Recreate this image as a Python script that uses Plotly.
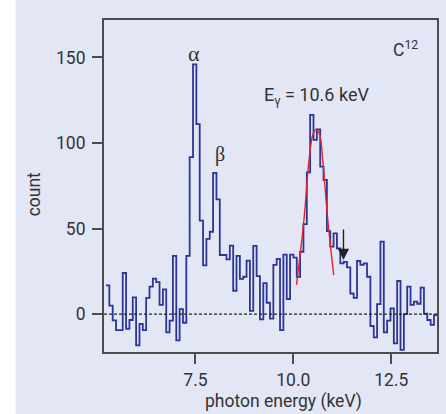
import numpy as np
import plotly.graph_objects as go

# ---- data ----
bin_start = 5.216      # keV, left edge of first channel
bin_width = 0.08546    # keV per channel
counts = [16.8, 4.9, -3.7, -9.4, -9.4, 24, -8.6, -3.5, 9.7, -18.3,
          -5.8, -9.4, 9.5, 16, 20.7, 18.7, 5.3, 14.4, -10.7, -3.9,
          34, -15.4, 2.9, -5.1, 34, 91.7, 146, 111, 54.6, 28.5,
          43.9, 48.1, 82.5, 67, 34.5, 34.5, 32, 40, 13.6, 34,
          20.5, 21.8, 31.2, 1.8, 39.8, 22.2, -3.1, 18.1, 6.6, -2.7,
          28.7, 32.2, -9.4, 34.7, 8.8, 34.7, 33, 21.8, 36.4, 52.6,
          82.8, 116.4, 101.8, 108, 86.2, 78.4, 48.5, 39.4, 47.2, 38.4,
          29.6, 30.5, 27.3, 12, 9.5, 31, 28.7, 29.6, 21.8, -7,
          -13.6, 5.8, 42.3, -10.7, -3.9, 3.3, -17.2, 19.3, -21, 0,
          16, 5.3, 7.2, 6, 15.4, 0.2, -3.5, -6.4, -0.6]

fit_x = [10.08, 10.27, 10.40, 10.50, 10.59, 10.68, 10.75, 10.88, 11.03]
fit_y = [17, 55, 90, 105, 108, 104, 90, 55, 22.8]

x_ticks = [7.5, 10.0, 12.5]
x_ticklabels = ["7.5", "10.0", "12.5"]
y_ticks = [0, 50, 100, 150]
y_ticklabels = ["0", "50", "100", "150"]
x_range = [5.165, 13.668]
y_range = [-22.2, 171.9]

arrow_x = 11.28
arrow_tip = 31.6
arrow_tail = 50.3

# ---- styles ----
bg = "#e3e7f5"
txt = "#333333"
axc = "#4d4d4d"
sans = "Roboto"
serif = "Liberation Serif"
fs = 17.5

edges = bin_start + bin_width * np.arange(len(counts) + 1)
step_y = counts + [counts[-1]]

fig = go.Figure()
fig.add_hline(y=0, line=dict(color="#222222", width=1.2, dash="3px,2px"))
fig.add_trace(go.Scatter(x=edges, y=step_y, mode="lines", line_shape="hv",
                         line=dict(color="#2b3595", width=1.8), hoverinfo="skip"))
fig.add_trace(go.Scatter(x=fit_x, y=fit_y, mode="lines", line_shape="spline",
                         line=dict(color="#e8202a", width=1.4), hoverinfo="skip"))

fig.update_xaxes(range=x_range, tickvals=x_ticks, ticktext=x_ticklabels,
                 ticks="outside", ticklen=10, tickwidth=1.5, tickcolor=axc,
                 showline=True, linecolor=axc, linewidth=2, mirror=True,
                 showgrid=False, zeroline=False, ticklabelstandoff=1,
                 tickfont=dict(family=sans, size=fs, color=txt))
fig.update_yaxes(range=y_range, tickvals=y_ticks, ticktext=y_ticklabels,
                 ticks="outside", ticklen=10, tickwidth=1.5, tickcolor=axc,
                 showline=True, linecolor=axc, linewidth=2, mirror=True,
                 showgrid=False, zeroline=False, ticklabelstandoff=3,
                 tickfont=dict(family=sans, size=fs, color=txt))

ann = []
ann.append(dict(x=7.46, y=152.3, xref="x", yref="y", text="α", showarrow=False,
                font=dict(family=serif, size=22, color=txt)))
ann.append(dict(x=8.117, y=93, xref="x", yref="y", text="β", showarrow=False,
                font=dict(family=serif, size=20, color=txt)))
ann.append(dict(x=9.193, y=127.5, xref="x", yref="y", xanchor="left",
                text="E<sub>γ</sub> = 10.6 keV", showarrow=False,
                font=dict(family=sans, size=18, color=txt)))
ann.append(dict(x=12.5, y=155, xref="x", yref="y", xanchor="left",
                text="C<sup>12</sup>", showarrow=False,
                font=dict(family=sans, size=fs, color=txt)))
ann.append(dict(x=arrow_x, y=arrow_tip, ax=arrow_x, ay=arrow_tail, xref="x", yref="y",
                axref="x", ayref="y", text="", showarrow=True, arrowhead=2,
                arrowsize=1.6, arrowwidth=1.4, arrowcolor="#222222"))
ann.append(dict(x=-0.209, y=0.476, xref="paper", yref="paper", text="count",
                xanchor="center", yanchor="middle",
                textangle=-90, showarrow=False,
                font=dict(family=sans, size=fs, color=txt)))
ann.append(dict(x=0.540, y=-0.1506, xref="paper", yref="paper",
                xanchor="center", yanchor="middle",
                text="photon energy (keV)", showarrow=False,
                font=dict(family=sans, size=fs, color=txt)))

shapes = [
    dict(type="rect", xref="paper", yref="paper", x0=-1, x1=2, y0=1.0361, y1=2,
         fillcolor="white", line_width=0, layer="below"),
    dict(type="rect", xref="paper", yref="paper", x0=-1, x1=-0.2657, y0=-1, y1=2,
         fillcolor="white", line_width=0, layer="below"),
]

fig.update_layout(width=446, height=414, margin=dict(l=104, r=7, t=20, b=62),
                  paper_bgcolor=bg, plot_bgcolor=bg, showlegend=False,
                  annotations=ann, shapes=shapes)
fig.write_html("out.html")
